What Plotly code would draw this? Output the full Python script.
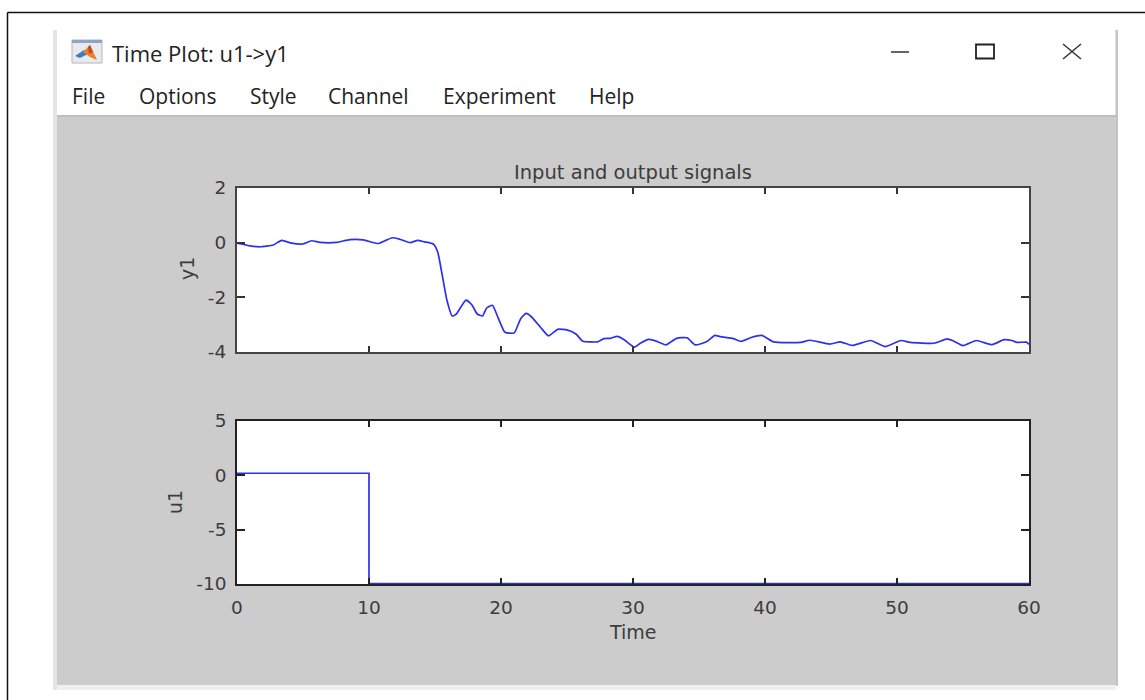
import plotly.graph_objects as go

# ---- data ----
y1_time = [0, 0.5, 1.0, 1.74, 2.75, 3.38, 4.14, 4.97, 5.65, 6.28, 7.55, 8.56, 9.57, 10.7, 11.2, 11.77,
           12.3, 13.1, 13.7, 14.2, 14.87, 15.2, 15.5, 15.9, 16.3, 16.6, 17.35, 17.8, 18.2, 18.6, 18.9,
           19.35, 19.8, 20.3, 21.0, 21.5, 21.9, 22.3, 23.05, 23.6, 24.3, 25.05, 25.7, 26.2, 26.8, 27.3,
           27.8, 28.3, 28.8, 29.3, 30.1, 30.55, 31.2, 31.8, 32.5, 33.3, 34.1, 34.7, 35.6, 36.2, 36.6,
           37.6, 38.2, 39.0, 39.75, 40.65, 42.7, 43.4, 44.9, 45.7, 46.6, 48.0, 49.1, 50.3, 51.0, 52.8,
           53.8, 54.2, 55.0, 56.0, 57.2, 58.1, 58.7, 59.1, 59.8, 60.0]
y1_values = [-0.02, -0.06, -0.12, -0.15, -0.085, 0.085, -0.02, -0.05, 0.07, 0.01, 0.01, 0.11, 0.1, -0.03, 0.07, 0.18,
             0.13, 0.0, 0.085, 0.03, -0.05, -0.33, -1.06, -2.1, -2.68, -2.62, -2.1, -2.28, -2.61, -2.68, -2.4,
             -2.29, -2.77, -3.28, -3.3, -2.77, -2.59, -2.71, -3.13, -3.41, -3.17, -3.2, -3.35, -3.61, -3.63, -3.63,
             -3.51, -3.5, -3.43, -3.54, -3.82, -3.68, -3.54, -3.61, -3.74, -3.5, -3.48, -3.74, -3.62, -3.39, -3.44,
             -3.51, -3.61, -3.46, -3.39, -3.63, -3.65, -3.57, -3.71, -3.63, -3.76, -3.58, -3.8, -3.58, -3.65, -3.68,
             -3.52, -3.58, -3.77, -3.58, -3.73, -3.55, -3.58, -3.65, -3.64, -3.72]
u1_time = [0, 10, 10, 60]
u1_values = [0.19, 0.19, -9.97, -9.97]
x_ticks = [0, 10, 20, 30, 40, 50, 60]
y1_ticks = [-4, -2, 0, 2]
y1_tick_labels = ["-4", "-2", "0", "2"]
u1_ticks = [-10, -5, 0, 5]
u1_tick_labels = ["-10", "-5", "0", "5"]
menu_labels = ["File", "Options", "Style", "Channel", "Experiment", "Help"]
menu_px = [70, 137, 248, 326, 441, 587]

W, H = 1145, 700
BLUE = "#2f2fee"
TXT = "#3c3c3c"
PLOT_FONT = "DejaVu Sans"


def px(x):
    return x / W


def py(y):
    return 1 - y / H


def rect(x0, y0, x1, y1, fill, line=None, width=1):
    return dict(type="rect", xref="paper", yref="paper", x0=px(x0), x1=px(x1), y0=py(y0), y1=py(y1),
                fillcolor=fill, line=dict(color=line or fill, width=width if line else 0), layer="below")


def seg(x0, y0, x1, y1, color, width=1.5):
    return dict(type="line", xref="paper", yref="paper", x0=px(x0), x1=px(x1), y0=py(y0), y1=py(y1),
                line=dict(color=color, width=width), layer="below")


def poly(points, fill):
    d = "M " + " L ".join(f"{px(a):.5f},{py(b):.5f}" for a, b in points) + " Z"
    return dict(type="path", xref="paper", yref="paper", path=d, fillcolor=fill, line=dict(width=0), layer="below")


def panel(xa, ya, xr, yr):
    return dict(type="rect", xref=xa, yref=ya, x0=xr[0], x1=xr[1], y0=yr[0], y1=yr[1],
                fillcolor="#ffffff", line=dict(width=0), layer="below")


fig = go.Figure()
fig.add_trace(go.Scatter(x=y1_time, y=y1_values, mode="lines", line=dict(color=BLUE, width=1.7, shape="spline", smoothing=0.5),
                         xaxis="x", yaxis="y", showlegend=False))
fig.add_trace(go.Scatter(x=u1_time, y=u1_values, mode="lines", line=dict(color=BLUE, width=1.7),
                         xaxis="x2", yaxis="y2", showlegend=False))

shapes = [
    # outer page frame
    seg(7.5, 12.5, 1145, 12.5, "#111111", 1.5),
    seg(7.5, 12.5, 7.5, 700, "#111111", 1.5),
    # window
    rect(53, 30, 1118, 690, "#ffffff"),
    rect(53, 30, 57, 690, "#e4e4e4"),
    rect(1115.5, 30, 1118, 686, "#c4c4c4"),
    rect(57, 117, 1116, 685, "#cccccc"),
    rect(57, 115, 1116, 117, "#bdbdbd"),
    rect(57, 685, 1116, 690, "#efefef"),
    # title-bar buttons
    seg(891, 52, 909, 52, "#333333", 1.5),
    rect(976, 44.5, 994, 58.5, "rgba(0,0,0,0)", "#222222", 1.8),
    seg(1063, 44, 1081, 59, "#333333", 1.5),
    seg(1063, 59, 1081, 44, "#333333", 1.5),
    # window icon
    rect(72, 40, 102, 63, "#e9e9ee", "#b5b5bd", 1),
    rect(72, 40, 102, 43, "#8aa6c4"),
    poly([(75, 56), (84, 50), (88, 54), (80, 58)], "#3c7fc0"),
    poly([(83, 52), (90, 45), (97, 60), (90, 57)], "#e8812a"),
    poly([(88, 47), (90, 45), (93, 52), (89, 54)], "#c9452a"),
    # white plot panels
    panel("x", "y", [0, 60], [-4, 2]),
    panel("x2", "y2", [0, 60], [-10, 5]),
]

annotations = [
    dict(text="Time Plot: u1-&gt;y1", x=px(110), y=py(53), xref="paper", yref="paper", xanchor="left",
         yanchor="middle", showarrow=False, font=dict(family="Open Sans", size=22, color="#222222")),
]
for lab, xp in zip(menu_labels, menu_px):
    annotations.append(dict(text=lab, x=px(xp), y=py(96), xref="paper", yref="paper", xanchor="left",
                            yanchor="middle", showarrow=False,
                            font=dict(family="Open Sans", size=21, color="#222222")))
annotations += [
    dict(text="Input and output signals", x=px(633), y=py(173), xref="paper", yref="paper", xanchor="center",
         yanchor="middle", showarrow=False, font=dict(family=PLOT_FONT, size=19.5, color=TXT)),
    dict(text="y1", x=px(187), y=py(268), xref="paper", yref="paper", xanchor="center", yanchor="middle",
         textangle=-90, showarrow=False, font=dict(family=PLOT_FONT, size=19, color=TXT)),
    dict(text="u1", x=px(175), y=py(502), xref="paper", yref="paper", xanchor="center", yanchor="middle",
         textangle=-90, showarrow=False, font=dict(family=PLOT_FONT, size=19, color=TXT)),
    dict(text="Time", x=px(633), y=py(632), xref="paper", yref="paper", xanchor="center", yanchor="middle",
         showarrow=False, font=dict(family=PLOT_FONT, size=19, color=TXT)),
]

tick_font = dict(family=PLOT_FONT, size=18.5, color=TXT)
axis_common = dict(showgrid=False, zeroline=False, ticks="inside", tickwidth=1.5, showline=True, mirror="allticks",
                   automargin=False, tickfont=tick_font)
top_style = dict(linecolor="#444444", linewidth=2, tickcolor="#333333")
bottom_style = dict(linecolor="#222222", linewidth=1.5, tickcolor="#222222")

fig.update_layout(
    width=W, height=H, margin=dict(l=0, r=0, t=0, b=0, autoexpand=False), autosize=False,
    paper_bgcolor="#ffffff", plot_bgcolor="#ffffff", showlegend=False,
    shapes=shapes, annotations=annotations,
    xaxis=dict(domain=[px(237), px(1029)], range=[0, 60], anchor="y", tickvals=x_ticks, showticklabels=False,
               ticklen=6, **top_style, **axis_common),
    yaxis=dict(domain=[py(352), py(188)], range=[-4, 2], anchor="x", tickvals=y1_ticks, ticktext=y1_tick_labels,
               ticklen=8, ticklabelstandoff=5, **top_style, **axis_common),
    xaxis2=dict(domain=[px(237), px(1029)], range=[0, 60], anchor="y2", tickvals=x_ticks,
                ticklen=6, ticklabelstandoff=6, **bottom_style, **axis_common),
    yaxis2=dict(domain=[py(584), py(421)], range=[-10, 5], anchor="x2", tickvals=u1_ticks, ticktext=u1_tick_labels,
                ticklen=8, ticklabelstandoff=5, **bottom_style, **axis_common),
)

fig.write_html("out.html", config={"displayModeBar": False},
               post_script="document.body.style.margin='0';document.documentElement.style.overflow='hidden';")
